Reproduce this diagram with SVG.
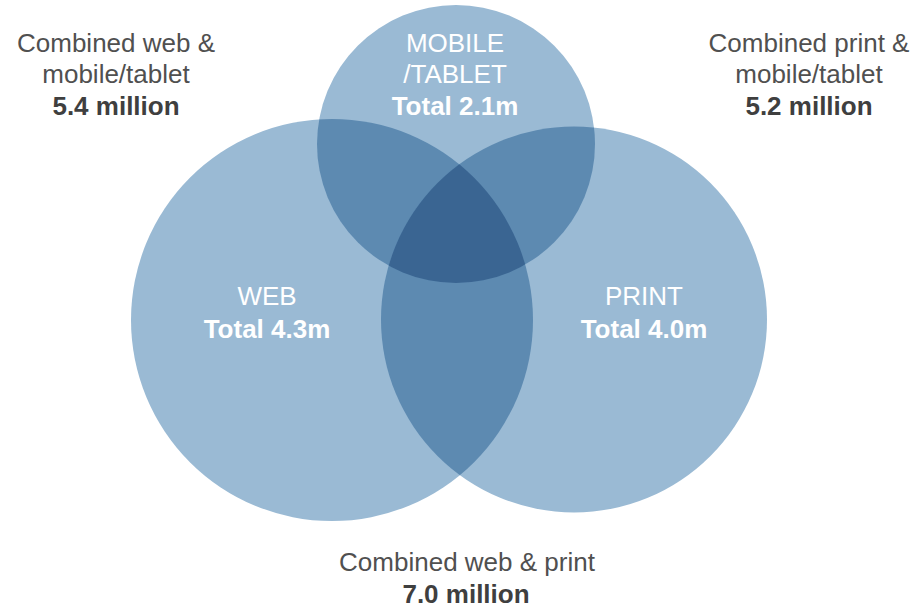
<svg xmlns="http://www.w3.org/2000/svg" width="915" height="608" viewBox="0 0 915 608">
<style>
.c1{fill:#9abad4}
.c2{fill:#5d8ab1}
.c3{fill:#3a6592}
text{font-family:"Liberation Sans",Arial,sans-serif;font-size:26px;text-anchor:middle}
.w{fill:#ffffff}
.g{fill:#505050}
.gb{fill:#3f3f3f;font-weight:bold}
.b{font-weight:bold}
</style>
<defs>
<clipPath id="clipWeb"><circle cx="332" cy="320" r="201"/></clipPath>
<clipPath id="clipPrint"><circle cx="574" cy="319.5" r="193"/></clipPath>
<clipPath id="clipMobile"><circle cx="456" cy="144" r="139"/></clipPath>
</defs>
<g id="web"><circle class="c1" cx="332" cy="320" r="201"/></g>
<g id="print"><circle class="c1" cx="574" cy="319.5" r="193"/></g>
<g id="mobile"><circle class="c1" cx="456" cy="144" r="139"/></g>
<g id="overlaps">
<circle class="c2" cx="332" cy="320" r="201" clip-path="url(#clipMobile)"/>
<circle class="c2" cx="332" cy="320" r="201" clip-path="url(#clipPrint)"/>
<circle class="c2" cx="456" cy="144" r="139" clip-path="url(#clipPrint)"/>
<g clip-path="url(#clipMobile)"><circle class="c3" cx="332" cy="320" r="201" clip-path="url(#clipPrint)"/></g>
</g>
<g id="labels">
<text class="w" x="455" y="52">MOBILE</text>
<text class="w" x="455" y="83">/TABLET</text>
<text class="w b" x="455" y="115">Total 2.1m</text>
<text class="w" x="267" y="305">WEB</text>
<text class="w b" x="267" y="338">Total 4.3m</text>
<text class="w" x="644" y="305">PRINT</text>
<text class="w b" x="644" y="338">Total 4.0m</text>
</g>
<g id="note-web-mobile">
<text class="g" x="116" y="52">Combined web &amp;</text>
<text class="g" x="116" y="83">mobile/tablet</text>
<text class="gb" x="116" y="115">5.4 million</text>
</g>
<g id="note-print-mobile">
<text class="g" x="809" y="52">Combined print &amp;</text>
<text class="g" x="809" y="83">mobile/tablet</text>
<text class="gb" x="809" y="115">5.2 million</text>
</g>
<g id="note-web-print">
<text class="g" x="467" y="571">Combined web &amp; print</text>
<text class="gb" x="466" y="603">7.0 million</text>
</g>
</svg>
